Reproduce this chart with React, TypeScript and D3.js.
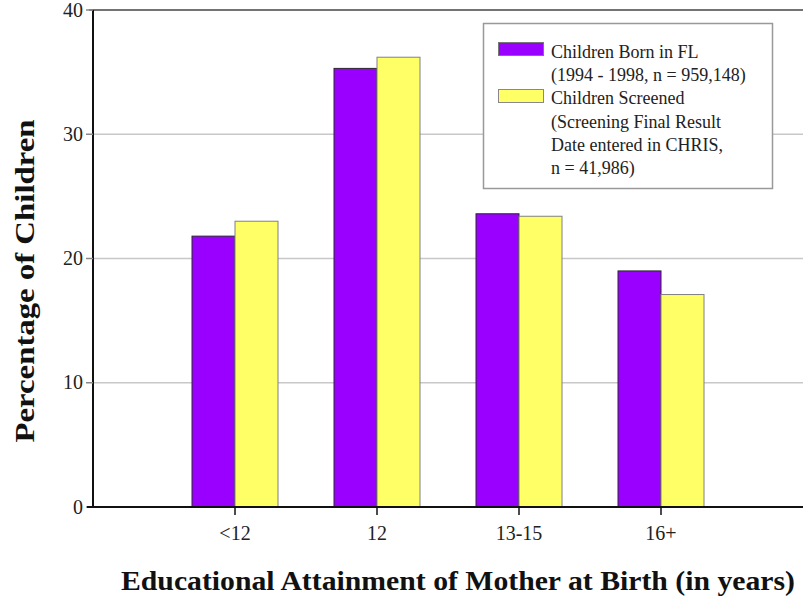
import { useRef, useEffect } from "react"
import * as d3 from "d3"

const categories = ["<12", "12", "13-15", "16+"]
const bornInFL = [21.8, 35.3, 23.6, 19.0]
const screened = [23.0, 36.2, 23.4, 17.1]
const yTicks = [0, 10, 20, 30, 40]
const legendBorn = ["Children Born in FL", "(1994 - 1998, n = 959,148)"]
const legendScreened = ["Children Screened", "(Screening Final Result", "Date entered in CHRIS,", "n = 41,986)"]

const W = 803
const H = 608
const FONT = "Liberation Serif, Times New Roman, serif"

export default function App() {
  const svgRef = useRef<SVGSVGElement>(null)

  useEffect(() => {
    if (!svgRef.current) return
    const svg = d3.select(svgRef.current)
    svg.selectAll("*").remove()

    const left = 93
    const right = W
    const top = 10
    const bottom = 507

    const y = d3.scaleLinear().domain([0, 40]).range([bottom, top])
    const step = (right - left) / (categories.length + 1)
    const x = d3
      .scaleBand<string>()
      .domain(categories)
      .range([left + step / 2, right - step / 2])
      .paddingInner(0)
      .paddingOuter(0)
    const barW = 43
    const cx = (c: string) => (x(c) ?? 0) + x.bandwidth() / 2

    // grid
    svg
      .append("g")
      .selectAll("line")
      .data(yTicks.filter((t) => t > 0 && t < 40))
      .join("line")
      .attr("x1", left)
      .attr("x2", right)
      .attr("y1", (d) => y(d))
      .attr("y2", (d) => y(d))
      .attr("stroke", "#c8c8c8")
      .attr("stroke-width", 1.5)

    // top frame
    svg
      .append("line")
      .attr("x1", left - 4)
      .attr("x2", right)
      .attr("y1", y(40))
      .attr("y2", y(40))
      .attr("stroke", "#444")
      .attr("stroke-width", 1.5)

    // bars
    const g = svg.append("g")
    categories.forEach((c, i) => {
      g.append("rect")
        .attr("x", cx(c) - barW)
        .attr("y", y(bornInFL[i]))
        .attr("width", barW)
        .attr("height", y(0) - y(bornInFL[i]))
        .attr("fill", "#9900ff")
        .attr("stroke", "#2a2a2a")
        .attr("stroke-width", 1)
      g.append("rect")
        .attr("x", cx(c))
        .attr("y", y(screened[i]))
        .attr("width", barW)
        .attr("height", y(0) - y(screened[i]))
        .attr("fill", "#ffff66")
        .attr("stroke", "#808080")
        .attr("stroke-width", 1)
    })

    // y axis
    const yAxis = svg.append("g")
    yAxis
      .append("line")
      .attr("x1", left)
      .attr("x2", left)
      .attr("y1", y(40))
      .attr("y2", y(0))
      .attr("stroke", "#111")
      .attr("stroke-width", 2)
    yAxis
      .selectAll("line.tick")
      .data(yTicks)
      .join("line")
      .attr("class", "tick")
      .attr("x1", left - 7)
      .attr("x2", left)
      .attr("y1", (d) => y(d))
      .attr("y2", (d) => y(d))
      .attr("stroke", "#888")
      .attr("stroke-width", 1.5)
    yAxis
      .selectAll("text")
      .data(yTicks)
      .join("text")
      .attr("x", left - 10)
      .attr("y", (d) => y(d))
      .attr("dy", "0.33em")
      .attr("text-anchor", "end")
      .attr("font-family", FONT)
      .attr("font-size", 20)
      .attr("fill", "#222")
      .text((d) => d)

    // x axis
    const xAxis = svg.append("g")
    xAxis
      .append("line")
      .attr("x1", left - 6)
      .attr("x2", right)
      .attr("y1", y(0))
      .attr("y2", y(0))
      .attr("stroke", "#111")
      .attr("stroke-width", 2)
    xAxis
      .selectAll("line.tick")
      .data(categories)
      .join("line")
      .attr("class", "tick")
      .attr("x1", (d) => cx(d))
      .attr("x2", (d) => cx(d))
      .attr("y1", y(0))
      .attr("y2", y(0) + 8)
      .attr("stroke", "#111")
      .attr("stroke-width", 1.5)
    xAxis
      .selectAll("text")
      .data(categories)
      .join("text")
      .attr("x", (d) => cx(d))
      .attr("y", 540)
      .attr("text-anchor", "middle")
      .attr("font-family", FONT)
      .attr("font-size", 20)
      .attr("fill", "#222")
      .text((d) => d)

    // axis titles
    svg
      .append("text")
      .attr("x", 458)
      .attr("y", 590)
      .attr("text-anchor", "middle")
      .attr("font-family", FONT)
      .attr("font-weight", "bold")
      .attr("font-size", 27)
      .attr("textLength", 674)
      .attr("lengthAdjust", "spacingAndGlyphs")
      .attr("fill", "#111")
      .text("Educational Attainment of Mother at Birth (in years)")
    svg
      .append("text")
      .attr("transform", `translate(34, 281) rotate(-90)`)
      .attr("text-anchor", "middle")
      .attr("font-family", FONT)
      .attr("font-weight", "bold")
      .attr("font-size", 27)
      .attr("textLength", 323)
      .attr("lengthAdjust", "spacingAndGlyphs")
      .attr("fill", "#111")
      .text("Percentage of Children")

    // legend
    const lg = svg.append("g")
    lg.append("rect")
      .attr("x", 483.5)
      .attr("y", 23.5)
      .attr("width", 289)
      .attr("height", 165)
      .attr("fill", "#fff")
      .attr("stroke", "#999")
      .attr("stroke-width", 1.5)
    lg.append("rect")
      .attr("x", 498.5)
      .attr("y", 42.5)
      .attr("width", 45)
      .attr("height", 13)
      .attr("fill", "#9900ff")
      .attr("stroke", "#777")
    lg.append("rect")
      .attr("x", 498.5)
      .attr("y", 89.5)
      .attr("width", 45)
      .attr("height", 13)
      .attr("fill", "#ffff66")
      .attr("stroke", "#888")
    const lines = [...legendBorn, ...legendScreened]
    lg.selectAll("text")
      .data(lines)
      .join("text")
      .attr("x", 551)
      .attr("y", (_, i) => 52 + i * 23.2)
      .attr("dy", "0.33em")
      .attr("font-family", FONT)
      .attr("font-size", 18)
      .attr("fill", "#222")
      .text((d) => d)
  }, [])

  return (
    <svg
      ref={svgRef}
      width={W}
      height={H}
      viewBox={`0 0 ${W} ${H}`}
      style={{ position: "absolute", left: 0, top: 0, background: "#fff" }}
    />
  )
}
